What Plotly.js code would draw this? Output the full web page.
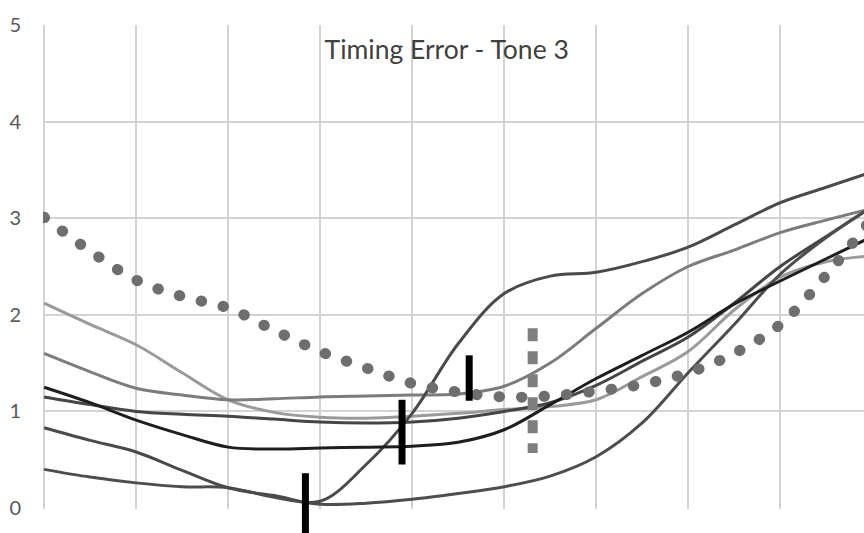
<!DOCTYPE html>
<html><head><meta charset="utf-8">
<script src="https://cdn.plot.ly/plotly-3.0.1.min.js"></script>
<style>html,body{margin:0;padding:0;background:#fff}#chart{width:864px;height:533px}</style>
</head><body><div id="chart"></div>
<script>
// sample positions along the (unlabelled) x axis, in grid units
const xPos = [0,0.5,1,1.5,2,2.5,3,3.5,4,4.5,5,5.5,6,6.5,7,7.5,8,8.5,9];

// six solid series
const seriesA = [2.12,1.90,1.69,1.40,1.12,0.99,0.94,0.93,0.95,0.98,1.02,1.05,1.12,1.36,1.62,2.05,2.39,2.55,2.61];
const seriesB = [1.60,1.41,1.24,1.17,1.12,1.13,1.15,1.16,1.17,1.18,1.26,1.50,1.86,2.22,2.50,2.67,2.85,2.98,3.10];
const seriesC = [1.25,1.09,0.91,0.76,0.63,0.61,0.62,0.63,0.64,0.68,0.81,1.07,1.34,1.58,1.82,2.11,2.35,2.58,2.81];
const seriesD = [1.15,1.07,1.00,0.97,0.95,0.92,0.89,0.88,0.89,0.93,1.00,1.09,1.27,1.52,1.77,2.12,2.50,2.81,3.12];
const seriesE = [0.83,0.70,0.58,0.39,0.21,0.13,0.07,0.45,0.98,1.70,2.22,2.40,2.44,2.55,2.70,2.93,3.16,3.32,3.48];
const seriesF = [0.40,0.32,0.26,0.22,0.21,0.11,0.04,0.05,0.09,0.15,0.22,0.33,0.53,0.88,1.40,1.90,2.42,2.80,3.12];
// dotted series
const seriesP = [3.01,2.66,2.36,2.19,2.07,1.84,1.62,1.45,1.29,1.20,1.15,1.16,1.21,1.28,1.40,1.60,1.90,2.41,3.00];

// black vertical bars
const barX = [2.84, 3.89, 4.62];
const barLow = [-0.30, 0.45, 1.11];
const barHigh = [0.36, 1.12, 1.58];
// grey dashed vertical bar
const dashBarX = [5.31];
const dashBarLow = [0.57];
const dashBarHigh = [1.86];

const titleText = 'Timing Error - Tone 3';
const yTicks = [0,1,2,3,4,5];

function solid(y, color, w) {
  return {x: xPos, y: y, type: 'scatter', mode: 'lines',
    line: {color: color, width: w, shape: 'spline', smoothing: 1}, hoverinfo: 'skip'};
}
function vbars(xs, lo, hi, color, w, dash) {
  const x = [], y = [];
  xs.forEach((v, i) => { x.push(v, v, null); y.push(hi[i], lo[i], null); });
  return {x: x, y: y, type: 'scatter', mode: 'lines', connectgaps: false,
    line: {color: color, width: w, dash: dash || 'solid'}, hoverinfo: 'skip'};
}

const blackBars = vbars(barX, barLow, barHigh, '#000000', 7);
blackBars.xaxis = 'x2'; blackBars.yaxis = 'y2';

const traces = [
  solid(seriesA, '#9a9a9a', 3),
  solid(seriesB, '#7c7c7c', 3),
  solid(seriesD, '#454545', 3),
  solid(seriesF, '#4d4d4d', 3),
  solid(seriesE, '#4a4a4a', 3),
  solid(seriesC, '#1e1e1e', 3),
  vbars(dashBarX, dashBarLow, dashBarHigh, '#7f7f7f', 10, '13px,10px'),
  {x: xPos, y: seriesP, type: 'scatter', mode: 'lines',
   line: {color: '#6e6e6e', width: 11, shape: 'spline', smoothing: 1, dash: '0.5px,22px'}, hoverinfo: 'skip'},
  blackBars
];
const DOT_INDEX = 7;

const xRange = [-0.012, 8.911];
const layout = {
  width: 864, height: 533,
  margin: {l: 43, r: 0, t: 25, b: 0, pad: 0},
  paper_bgcolor: '#ffffff', plot_bgcolor: 'rgba(0,0,0,0)',
  showlegend: false,
  title: {text: titleText, x: 0.517, xref: 'container', xanchor: 'center',
          y: 0.907, yref: 'container', yanchor: 'middle',
          font: {family: 'Lato, "Open Sans", sans-serif', size: 26.5, color: '#404040'}},
  xaxis: {range: xRange, dtick: 1, tick0: 0, showticklabels: false, ticks: '',
          showgrid: true, gridcolor: '#d3d3d3', gridwidth: 2, zeroline: false, showline: false, fixedrange: true},
  yaxis: {domain: [24 / 508, 1], range: [-0.0104, 5.0], tickvals: yTicks, ticktext: yTicks.map(String), ticks: '',
          showgrid: true, gridcolor: '#d3d3d3', gridwidth: 2, zeroline: false, showline: false,
          ticklabelstandoff: 21,
          tickfont: {family: 'Lato, "Open Sans", sans-serif', size: 20, color: '#595959'}, fixedrange: true},
  xaxis2: {range: xRange, anchor: 'y2', visible: false, showgrid: false, zeroline: false, fixedrange: true},
  yaxis2: {domain: [0, 1], range: [-0.259, 5.0], anchor: 'x2', visible: false, showgrid: false, zeroline: false, fixedrange: true}
};

Plotly.newPlot('chart', traces, layout, {staticPlot: true, displayModeBar: false}).then(function () {
  const tr = document.querySelectorAll('.scatterlayer .trace')[DOT_INDEX];
  if (tr) tr.querySelectorAll('path.js-line').forEach(p => p.style.setProperty('stroke-linecap', 'round'));
});
</script>
</body></html>
